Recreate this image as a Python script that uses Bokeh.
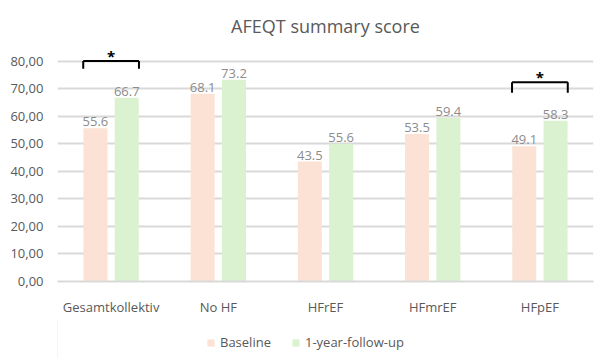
from bokeh.plotting import figure
from bokeh.layouts import column
from bokeh.models import (ColumnDataSource, FactorRange, Range1d, FixedTicker,
                          CustomJSTickFormatter, Legend, LegendItem)
from bokeh.transform import dodge
from bokeh.embed import file_html
from bokeh.resources import INLINE
from bokeh.core.properties import value

# ---- data ----
categories = ["Gesamtkollektiv", "No HF", "HFrEF", "HFmrEF", "HFpEF"]
baseline = [55.6, 68.1, 43.5, 53.5, 49.1]
followup = [66.7, 73.2, 50.0, 59.4, 58.3]          # bar heights as drawn
baseline_labels = ["55.6", "68.1", "43.5", "53.5", "49.1"]
followup_labels = ["66.7", "73.2", "55.6", "59.4", "58.3"]
series_names = ["Baseline", "1-year-follow-up"]
sig_groups = ["Gesamtkollektiv", "HFpEF"]
sig_bracket_y = [80.0, 72.3]
sig_bracket_drop = [2.8, 3.8]
y_ticks = [0, 10, 20, 30, 40, 50, 60, 70, 80]

FONT = "Open Sans"
GREY = "#595959"
C_BASE = "#fbe2d5"
C_FOLL = "#daf2d0"

src = ColumnDataSource(dict(cat=categories, base=baseline, foll=followup,
                            bl=baseline_labels, fl=followup_labels))

p = figure(x_range=FactorRange(*categories, range_padding=0.0),
           y_range=Range1d(0, 86), width=600, height=318,
           output_backend="svg", toolbar_location=None,
           min_border_left=57, min_border_right=7, min_border_top=44,
           min_border_bottom=33)
p.outline_line_color = None
p.background_fill_color = "white"

p.title.text = "AFEQT summary score"
p.title.align = "center"
p.title.vertical_align = "top"
p.title.text_font = FONT
p.title.text_font_size = "18px"
p.title.text_font_style = "normal"
p.title.text_color = GREY

OFF = 0.146
W = 0.224
r1 = p.vbar(x=dodge("cat", -OFF, range=p.x_range), top="base", width=W,
            source=src, fill_color=C_BASE, line_color=None)
r2 = p.vbar(x=dodge("cat", OFF, range=p.x_range), top="foll", width=W,
            source=src, fill_color=C_FOLL, line_color=None)

lbl_common = dict(text_font=value(FONT), text_font_size="13px",
                  text_color="#8c8c8c", text_align="center",
                  text_baseline="bottom", y_offset=-2)
p.text(x=dodge("cat", -OFF, range=p.x_range), y="base", text="bl",
       source=src, **lbl_common)
p.text(x=dodge("cat", OFF, range=p.x_range), y="foll", text="fl",
       source=src, **lbl_common)

# significance brackets
bsrc = ColumnDataSource(dict(
    g=sig_groups, y=sig_bracket_y,
    ylow=[a - b for a, b in zip(sig_bracket_y, sig_bracket_drop)],
    star=["*"] * len(sig_groups)))
BW = 0.26
p.segment(x0=dodge("g", -BW, range=p.x_range), x1=dodge("g", BW, range=p.x_range),
          y0="y", y1="y", source=bsrc, line_color="black", line_width=2)
p.segment(x0=dodge("g", -BW, range=p.x_range), x1=dodge("g", -BW, range=p.x_range),
          y0="y", y1="ylow", source=bsrc, line_color="black", line_width=2)
p.segment(x0=dodge("g", BW, range=p.x_range), x1=dodge("g", BW, range=p.x_range),
          y0="y", y1="ylow", source=bsrc, line_color="black", line_width=2)
p.text(x=dodge("g", 0, range=p.x_range), y="y", text="star", source=bsrc,
       text_font=value(FONT), text_font_size="15px", text_font_style="bold",
       text_color="black", text_align="center", text_baseline="middle",
       y_offset=-5)

# axes
p.yaxis.ticker = FixedTicker(ticks=y_ticks)
p.yaxis.formatter = CustomJSTickFormatter(
    code="return tick.toFixed(2).replace('.', ',');")
p.yaxis.axis_line_color = None
p.yaxis.major_tick_line_color = None
p.yaxis.minor_tick_line_color = None
p.yaxis.major_label_text_font = FONT
p.yaxis.major_label_text_font_size = "13px"
p.yaxis.major_label_text_color = GREY
p.yaxis.major_label_standoff = 8

p.xaxis.axis_line_color = "#d9d9d9"
p.xaxis.axis_line_width = 2
p.xaxis.major_tick_line_color = None
p.xaxis.minor_tick_line_color = None
p.xaxis.major_label_text_font = FONT
p.xaxis.major_label_text_font_size = "13px"
p.xaxis.major_label_text_color = GREY
p.xaxis.major_label_standoff = 10

p.xgrid.grid_line_color = None
p.ygrid.grid_line_color = "#d9d9d9"
p.ygrid.grid_line_width = 2

# legend strip (separate small figure so the legend is not clipped)
lf = figure(width=600, height=40, output_backend="svg", toolbar_location=None,
            x_range=Range1d(0, 1), y_range=Range1d(0, 1),
            x_axis_type=None, y_axis_type=None,
            min_border=0, min_border_left=0, min_border_right=0,
            min_border_top=0, min_border_bottom=0)
lf.grid.visible = False
lf.outline_line_color = None
# legend proxies placed outside the visible range
lr1 = lf.vbar(x=[-5], top=[1], width=0.1, fill_color=C_BASE, line_color=None)
lr2 = lf.vbar(x=[-5], top=[1], width=0.1, fill_color=C_FOLL, line_color=None)
legend = Legend(items=[LegendItem(label=series_names[0], renderers=[lr1]),
                       LegendItem(label=series_names[1], renderers=[lr2])],
                orientation="horizontal", location=(149, 7),
                label_text_font=FONT, label_text_font_size="13px",
                label_text_color=GREY, glyph_width=9, glyph_height=9,
                spacing=20, label_standoff=5, border_line_color=None,
                background_fill_alpha=0, padding=4, margin=0)
lf.add_layout(legend, "center")

layout = column(p, lf, spacing=0)
open("out.html", "w").write(file_html(layout, INLINE))
